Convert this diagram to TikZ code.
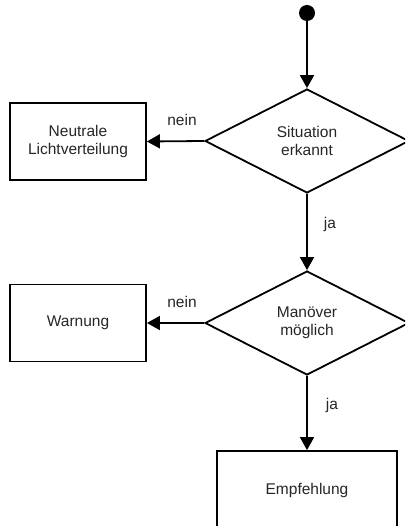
\documentclass[tikz,border=0pt]{standalone}
\usepackage{fontspec}
\setmainfont{Liberation Sans}
\usetikzlibrary{shapes.geometric,arrows.meta}
\begin{document}
\begin{tikzpicture}[x=1pt,y=-1pt,
  every node/.style={font=\fontsize{15.5}{18.5}\selectfont, text=black!85, align=center},
  dec/.style={diamond, draw, line width=1.8pt, minimum width=204pt, minimum height=104pt, inner sep=0pt, shape aspect=2},
  box/.style={rectangle, draw, line width=1.8pt, minimum width=136pt, minimum height=77pt, inner sep=0pt},
  flow/.style={line width=1.8pt, -{Triangle[length=13pt,width=14pt]}},
  lbl/.style={inner sep=0pt}]
\path[use as bounding box] (0,0) rectangle (405,526);
\clip (0,0) rectangle (405,526);
\fill[white] (0,0) rectangle (405,526);
\node[circle, fill=black, minimum size=16pt, inner sep=0pt] (start) at (307,13) {};
\node[dec] (d1) at (307,141) {Situation\\erkannt};
\node[box] (b1) at (78,141.5) {Neutrale\\Lichtverteilung};
\node[dec] (d2) at (307,323) {Manöver\\möglich};
\node[box] (b2) at (78,323) {Warnung};
\node[box, minimum width=180pt, minimum height=78pt] (b3) at (307,490) {Empfehlung};
\draw[flow] (start) -- (d1.north);
\draw[flow] (d1.west) -- (b1.east);
\draw[flow] (d1.south) -- (d2.north);
\draw[flow] (d2.west) -- (b2.east);
\draw[flow] (d2.south) -- (b3.north);
\node[lbl] (n1) at (182,120) {nein};
\node[lbl] (n2) at (182,302) {nein};
\node[lbl] (j1) at (330,224) {ja};
\node[lbl] (j2) at (332,405) {ja};
\end{tikzpicture}
\end{document}
